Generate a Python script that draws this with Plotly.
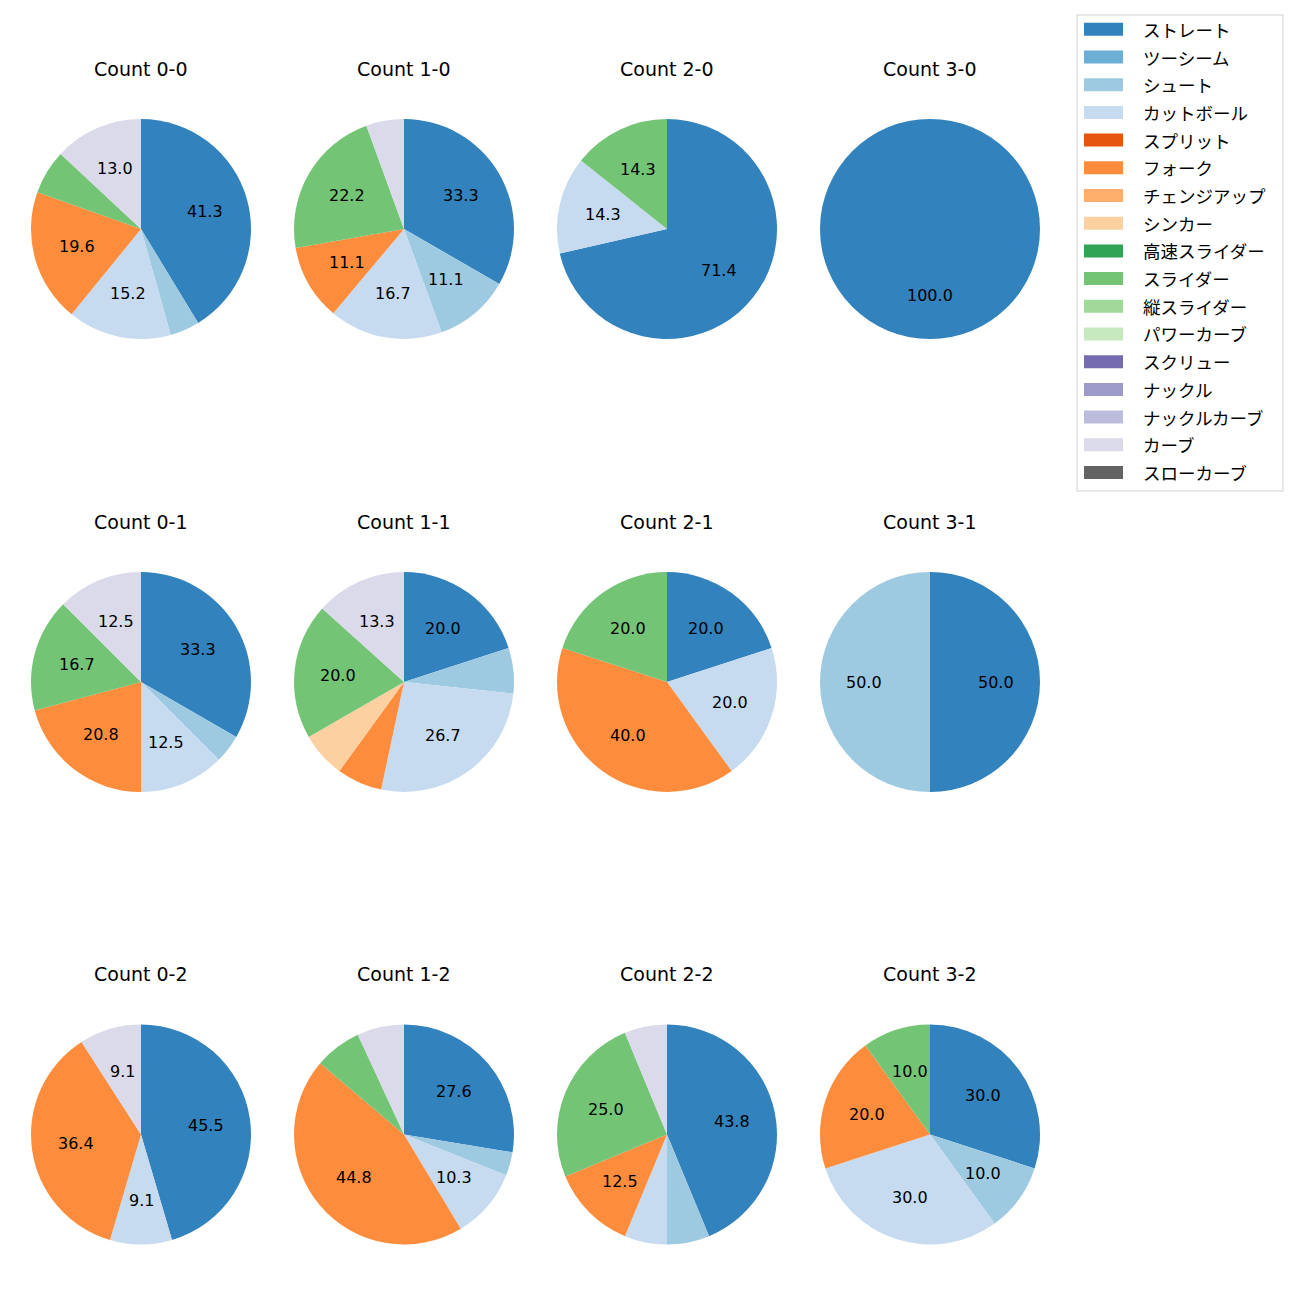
import plotly.graph_objects as go
import math

pitch_types = ["ストレート", "ツーシーム", "シュート", "カットボール", "スプリット", "フォーク",
               "チェンジアップ", "シンカー", "高速スライダー", "スライダー", "縦スライダー",
               "パワーカーブ", "スクリュー", "ナックル", "ナックルカーブ", "カーブ", "スローカーブ"]
colors = ["#3182bd", "#6baed6", "#9ecae1", "#c6dbef", "#e6550d", "#fd8d3c", "#fdae6b", "#fdd0a2",
          "#31a354", "#74c476", "#a1d99b", "#c7e9c0", "#756bb1", "#9e9ac8", "#bcbddc", "#dadaeb",
          "#636363"]

counts = ["0-0", "1-0", "2-0", "3-0",
          "0-1", "1-1", "2-1", "3-1",
          "0-2", "1-2", "2-2", "3-2"]

# pitch counts per ball-strike count
count_00 = {"ストレート": 19, "シュート": 2, "カットボール": 7, "フォーク": 9, "スライダー": 3, "カーブ": 6}
count_10 = {"ストレート": 6, "シュート": 2, "カットボール": 3, "フォーク": 2, "スライダー": 4, "カーブ": 1}
count_20 = {"ストレート": 5, "カットボール": 1, "スライダー": 1}
count_30 = {"ストレート": 1}
count_01 = {"ストレート": 8, "シュート": 1, "カットボール": 3, "フォーク": 5, "スライダー": 4, "カーブ": 3}
count_11 = {"ストレート": 3, "シュート": 1, "カットボール": 4, "フォーク": 1, "シンカー": 1, "スライダー": 3, "カーブ": 2}
count_21 = {"ストレート": 1, "カットボール": 1, "フォーク": 2, "スライダー": 1}
count_31 = {"ストレート": 1, "シュート": 1}
count_02 = {"ストレート": 5, "カットボール": 1, "フォーク": 4, "カーブ": 1}
count_12 = {"ストレート": 8, "シュート": 1, "カットボール": 3, "フォーク": 13, "スライダー": 2, "カーブ": 2}
count_22 = {"ストレート": 7, "シュート": 1, "カットボール": 1, "フォーク": 2, "スライダー": 4, "カーブ": 1}
count_32 = {"ストレート": 3, "シュート": 1, "カットボール": 3, "フォーク": 2, "スライダー": 1}

data = [count_00, count_10, count_20, count_30,
        count_01, count_11, count_21, count_31,
        count_02, count_12, count_22, count_32]

W = H = 1300
OFF = 8  # page body margin
col_cx = [141 - OFF, 404 - OFF, 667 - OFF, 930 - OFF]
row_cy = [229 - OFF, 682 - OFF, 1134.5 - OFF]
title_y = [69 - OFF, 522 - OFF, 974 - OFF]
R = 110
LATIN = "DejaVu Sans, Noto Sans CJK JP"
CJK = "Noto Sans CJK JP, Noto Sans, DejaVu Sans"

fig = go.Figure()
annotations = []
shapes = []

for i, (cnt, d) in enumerate(zip(counts, data)):
    r, c = divmod(i, 4)
    cx, cy = col_cx[c], row_cy[r]
    labels = [p for p in pitch_types if p in d]
    vals = [d[p] for p in labels]
    cols = [colors[pitch_types.index(p)] for p in labels]
    fig.add_trace(go.Pie(
        labels=labels, values=vals, sort=False, direction="clockwise", rotation=0,
        marker=dict(colors=cols, line=dict(width=0)),
        textinfo="none", hoverinfo="label+percent", showlegend=False,
        domain=dict(x=[(cx - R) / W, (cx + R) / W], y=[1 - (cy + R) / H, 1 - (cy - R) / H]),
    ))
    total = sum(vals)
    cum = 0
    for v in vals:
        pct = 100 * v / total
        mid = cum + v / 2
        cum += v
        if pct < 8:
            continue
        ang = math.radians(90 - 360 * mid / total)
        tx = cx + 0.6 * R * math.cos(ang)
        ty = cy - 0.6 * R * math.sin(ang)
        annotations.append(dict(x=tx / W, y=1 - ty / H, xref="paper", yref="paper",
                                text=f"{pct:.1f}", showarrow=False,
                                font=dict(family=LATIN, size=16, color="black"),
                                xanchor="center", yanchor="middle"))
    annotations.append(dict(x=cx / W, y=1 - title_y[r] / H, xref="paper", yref="paper",
                            text=f"Count {cnt}", showarrow=False,
                            font=dict(family=LATIN, size=19, color="black"),
                            xanchor="center", yanchor="middle"))

# legend (manual, matplotlib-style)
lx0, ly0, lx1, ly1 = 1077 - OFF, 15 - OFF, 1283 - OFF, 491 - OFF
shapes.append(dict(type="rect", xref="paper", yref="paper",
                   x0=lx0 / W, x1=lx1 / W, y0=1 - ly1 / H, y1=1 - ly0 / H,
                   line=dict(color="#d0d0d0", width=1), fillcolor="rgba(255,255,255,0.8)"))
first_y, step = 29.3 - OFF, 27.7
for k, (p, col) in enumerate(zip(pitch_types, colors)):
    yc = first_y + k * step
    shapes.append(dict(type="rect", xref="paper", yref="paper",
                       x0=(1084 - OFF) / W, x1=(1123 - OFF) / W,
                       y0=1 - (yc + 6.5) / H, y1=1 - (yc - 6.5) / H,
                       line=dict(width=0), fillcolor=col))
    annotations.append(dict(x=(1141 - OFF) / W, y=1 - yc / H, xref="paper", yref="paper",
                            text=p, showarrow=False,
                            font=dict(family=CJK, size=17.5, color="black"),
                            xanchor="left", yanchor="middle"))

fig.update_layout(width=W, height=H, margin=dict(l=0, r=0, t=0, b=0),
                  paper_bgcolor="white", plot_bgcolor="white",
                  annotations=annotations, shapes=shapes, showlegend=False)
fig.write_html("out.html")
